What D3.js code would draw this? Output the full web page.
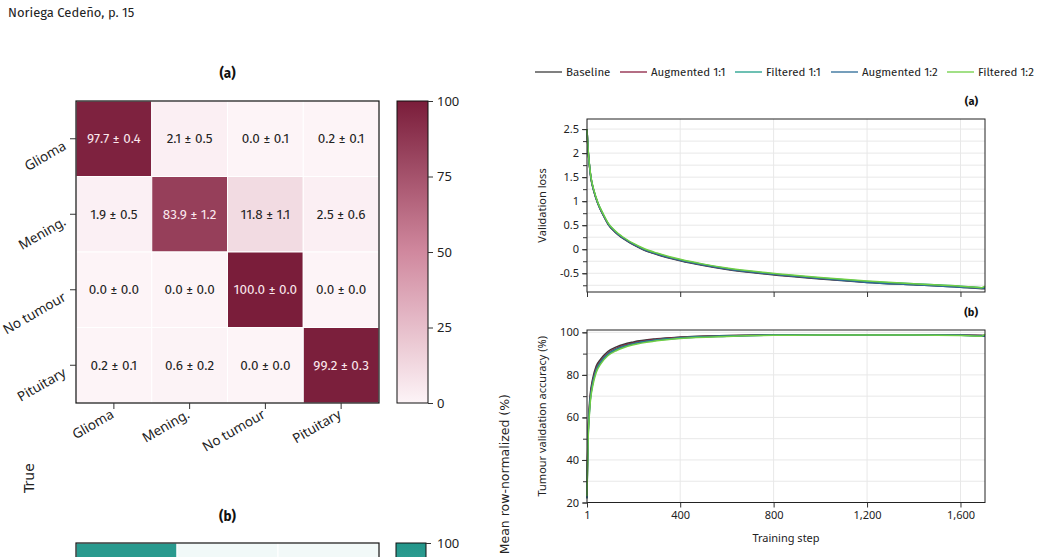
<!DOCTYPE html>
<html><head><meta charset="utf-8">
<script src="https://cdn.jsdelivr.net/npm/d3@7"></script>
<style>
body{margin:0;background:#fff;overflow:hidden}
svg{display:block}
.fira{font-family:"Fira Sans","Lato","Noto Sans",sans-serif}
.noto{font-family:"Noto Sans","Open Sans",sans-serif}
.dv{font-family:"DejaVu Sans",sans-serif}
</style></head>
<body>
<svg id="c" width="1041" height="557"></svg>
<script>
// ---------- DATA ----------
const categories = ["Glioma", "Mening.", "No tumour", "Pituitary"];
const cmMean = [
  [97.7, 2.1, 0.0, 0.2],
  [1.9, 83.9, 11.8, 2.5],
  [0.0, 0.0, 100.0, 0.0],
  [0.2, 0.6, 0.0, 99.2]
];
const cmStd = [
  [0.4, 0.5, 0.1, 0.1],
  [0.5, 1.2, 1.1, 0.6],
  [0.0, 0.0, 0.0, 0.0],
  [0.1, 0.2, 0.0, 0.3]
];
const colorbarTicks = [0, 25, 50, 75, 100];
const bColumns = ["c1", "c2", "c3"];
const bFirstRow = [96.5, 2.0, 1.5];

const seriesNames = ["Baseline", "Augmented 1:1", "Filtered 1:1", "Augmented 1:2", "Filtered 1:2"];
const seriesColors = ["#3b3b3b", "#8c1f42", "#1e9e8a", "#2b6a96", "#6fcf45"];

const lossSteps = [1,4,7,12,18,30,47,70,91,120,150,200,242,300,400,500,600,775,1000,1200,1400,1600,1690,1705];
const lossBaseline = [2.50,2.19,1.97,1.71,1.47,1.21,0.95,0.71,0.52,0.36,0.24,0.09,-0.01,-0.11,-0.24,-0.34,-0.42,-0.52,-0.62,-0.69,-0.74,-0.79,-0.82,-0.82];
const lossAug11   = [2.50,2.20,1.98,1.72,1.48,1.22,0.96,0.72,0.53,0.37,0.25,0.10,0.00,-0.10,-0.23,-0.33,-0.41,-0.51,-0.61,-0.68,-0.73,-0.78,-0.81,-0.81];
const lossFil11   = [2.50,2.21,1.99,1.73,1.49,1.23,0.97,0.73,0.54,0.38,0.26,0.11,0.01,-0.09,-0.22,-0.32,-0.40,-0.50,-0.60,-0.67,-0.72,-0.77,-0.80,-0.80];
const lossAug12   = [2.50,2.20,1.98,1.72,1.48,1.22,0.96,0.72,0.53,0.37,0.25,0.10,0.00,-0.10,-0.23,-0.33,-0.41,-0.51,-0.61,-0.69,-0.74,-0.79,-0.81,-0.81];
const lossFil12   = [2.50,2.22,2.00,1.74,1.50,1.24,0.98,0.74,0.55,0.39,0.27,0.12,0.02,-0.08,-0.21,-0.31,-0.39,-0.49,-0.59,-0.66,-0.72,-0.77,-0.80,-0.77];

const accSteps = [1,3,6,10,15,25,40,60,90,130,200,300,400,600,800,1000,1200,1400,1600,1690,1705];
const accBaseline = [23,40,55,64,71,78,84,87.5,91,93.3,95.5,97.0,97.8,98.5,98.8,98.9,98.9,98.9,98.8,98.6,98.5];
const accAug11    = [22,38,53,62,69.5,76.8,83,86.7,90.3,92.7,95.0,96.7,97.6,98.4,98.8,98.9,98.9,98.9,98.7,98.4,98.3];
const accFil11    = [22,37,52,61,68.5,76,82.3,86.2,89.8,92.3,94.7,96.5,97.4,98.3,98.7,98.8,98.8,98.8,98.6,98.3,98.2];
const accAug12    = [22,36,51,60,68,75.5,81.8,85.8,89.5,92.0,94.5,96.3,97.3,98.2,98.7,98.8,98.8,98.8,98.6,98.3,98.2];
const accFil12    = [23,35,50,59,67,74.5,81,85.2,89,91.6,94.2,96.0,97.1,98.1,98.6,98.7,98.7,98.7,98.5,98.2,99.2];

const xTickValues = [1, 400, 800, 1200, 1600];
const lossTicks = [-0.5, 0, 0.5, 1, 1.5, 2, 2.5];
const accTicks = [20, 40, 60, 80, 100];

// ---------- DRAW ----------
const svg = d3.select("#c");

svg.append("text").attr("class","fira").attr("x",8).attr("y",17)
  .attr("font-size",13).attr("fill","#222").text("Noriega Cedeño, p. 15");

// Heatmap (a)
const hm = {x0:76, x1:379, y0:101, y1:403};
const hx = d3.scaleBand().domain(categories).range([hm.x0, hm.x1]);
const hy = d3.scaleBand().domain(categories).range([hm.y0, hm.y1]);
const cmColor = d3.scaleLinear().domain([0,50,100]).range(["#fdf4f7","#d0889e","#7a1d3a"]).interpolate(d3.interpolateRgb);

svg.append("text").attr("class","fira").attr("x",(hm.x0+hm.x1)/2).attr("y",78)
  .attr("text-anchor","middle").attr("font-size",13.5).attr("font-weight","bold").attr("fill","#111").text("(a)");

const cells = [];
categories.forEach((r,i)=>categories.forEach((c,j)=>cells.push({r,c,v:cmMean[i][j],s:cmStd[i][j]})));
svg.append("g").selectAll("rect").data(cells).join("rect")
  .attr("x",d=>hx(d.c)).attr("y",d=>hy(d.r)).attr("width",hx.bandwidth()).attr("height",hy.bandwidth())
  .attr("fill",d=>cmColor(d.v)).attr("stroke","#fff").attr("stroke-width",1);
svg.append("g").selectAll("text").data(cells).join("text").attr("class","fira")
  .attr("x",d=>hx(d.c)+hx.bandwidth()/2).attr("y",d=>hy(d.r)+hy.bandwidth()/2)
  .attr("dy","0.35em").attr("text-anchor","middle").attr("font-size",13.5)
  .attr("fill",d=>d.v>60?"#fbe9ee":"#222")
  .text(d=>d.v.toFixed(1)+" ± "+d.s.toFixed(1));
svg.append("rect").attr("x",hm.x0).attr("y",hm.y0).attr("width",hm.x1-hm.x0).attr("height",hm.y1-hm.y0)
  .attr("fill","none").attr("stroke","#111").attr("stroke-width",1.2);

// axis ticks & labels
categories.forEach(c=>{
  const cy = hy(c)+hy.bandwidth()/2;
  svg.append("line").attr("x1",hm.x0-6).attr("x2",hm.x0).attr("y1",cy).attr("y2",cy).attr("stroke","#333");
  svg.append("text").attr("class","noto").attr("font-size",13.5).attr("fill","#222").attr("text-anchor","end")
    .attr("transform",`translate(${hm.x0-9},${cy+10}) rotate(-30)`).text(c);
  const cx = hx(c)+hx.bandwidth()/2;
  svg.append("line").attr("x1",cx).attr("x2",cx).attr("y1",hm.y1).attr("y2",hm.y1+6).attr("stroke","#333");
  svg.append("text").attr("class","noto").attr("font-size",13.5).attr("fill","#222").attr("text-anchor","end")
    .attr("transform",`translate(${cx+1},${hm.y1+14}) rotate(-30)`).text(c);
});

// colorbar (a)
const defs = svg.append("defs");
const g1 = defs.append("linearGradient").attr("id","cbA").attr("x1",0).attr("y1",1).attr("x2",0).attr("y2",0);
d3.range(0,101,10).forEach(v=>g1.append("stop").attr("offset",v+"%").attr("stop-color",cmColor(v)));
const cb = {x:397, w:31};
const cbY = d3.scaleLinear().domain([0,100]).range([hm.y1, hm.y0]);
svg.append("rect").attr("x",cb.x).attr("y",hm.y0).attr("width",cb.w).attr("height",hm.y1-hm.y0)
  .attr("fill","url(#cbA)").attr("stroke","#111").attr("stroke-width",1);
svg.append("g").attr("transform",`translate(${cb.x+cb.w},0)`)
  .call(d3.axisRight(cbY).tickValues(colorbarTicks).tickSize(5).tickPadding(4))
  .call(g=>{g.select(".domain").remove(); g.selectAll("text").attr("class","noto").attr("font-size",13).attr("fill","#222"); g.selectAll("line").attr("stroke","#333");});

svg.append("text").attr("class","dv").attr("font-size",14).attr("fill","#222").attr("text-anchor","middle")
  .attr("transform","translate(34,478) rotate(-90)").text("True");
svg.append("text").attr("class","dv").attr("font-size",12.5).attr("fill","#222").attr("text-anchor","end")
  .attr("transform","translate(509,394) rotate(-90)").text("Mean row-normalized (%)");

// heatmap (b)
svg.append("text").attr("class","fira").attr("x",(hm.x0+hm.x1)/2).attr("y",521)
  .attr("text-anchor","middle").attr("font-size",13.5).attr("font-weight","bold").attr("fill","#111").text("(b)");
const bColor = d3.scaleLinear().domain([0,100]).range(["#f5fbfa","#22968a"]);
const bx = d3.scaleBand().domain(bColumns).range([hm.x0, hm.x1]);
const bTop = 543;
svg.append("g").selectAll("rect").data(bFirstRow).join("rect")
  .attr("x",(d,i)=>bx(bColumns[i])).attr("y",bTop).attr("width",bx.bandwidth()).attr("height",101)
  .attr("fill",d=>bColor(d)).attr("stroke","#fff");
svg.append("rect").attr("x",hm.x0).attr("y",bTop).attr("width",hm.x1-hm.x0).attr("height",101)
  .attr("fill","none").attr("stroke","#111").attr("stroke-width",1.2);
const g2 = defs.append("linearGradient").attr("id","cbB").attr("x1",0).attr("y1",1).attr("x2",0).attr("y2",0);
g2.append("stop").attr("offset","0%").attr("stop-color",bColor(0));
g2.append("stop").attr("offset","100%").attr("stop-color",bColor(100));
svg.append("rect").attr("x",396).attr("y",bTop).attr("width",30).attr("height",300)
  .attr("fill","url(#cbB)").attr("stroke","#111");
const cbBY = d3.scaleLinear().domain([0,100]).range([bTop+300,bTop]);
svg.append("g").attr("transform","translate(426,0)")
  .call(d3.axisRight(cbBY).tickValues([100]).tickSize(5).tickPadding(6))
  .call(g=>{g.select(".domain").remove(); g.selectAll("text").attr("class","noto").attr("font-size",13).attr("fill","#222"); g.selectAll("line").attr("stroke","#333");});

// ---------- line charts ----------
const px = {x0:587, x1:985};
const x = d3.scaleLinear().domain([1,1705]).range([px.x0, px.x1]);

// legend
const legendX = [535, 620, 735, 831, 947];
seriesNames.forEach((n,i)=>{
  svg.append("line").attr("x1",legendX[i]).attr("x2",legendX[i]+27).attr("y1",72).attr("y2",72)
    .attr("stroke",seriesColors[i]).attr("stroke-width",1.3);
  svg.append("text").attr("class","fira").attr("x",legendX[i]+31).attr("y",72).attr("dy","0.35em")
    .attr("font-size",11.5).attr("fill","#222").text(n);
});

function panel(cfg){
  const y = d3.scaleLinear().domain(cfg.domain).range([cfg.y1, cfg.y0]);
  const g = svg.append("g");
  g.selectAll(".gh").data(cfg.grid).join("line").attr("x1",px.x0).attr("x2",px.x1)
    .attr("y1",d=>y(d)).attr("y2",d=>y(d)).attr("stroke","#e8e8e8").attr("stroke-width",1);
  g.selectAll(".gv").data(xTickValues).join("line").attr("x1",d=>x(d)).attr("x2",d=>x(d))
    .attr("y1",cfg.y0).attr("y2",cfg.y1).attr("stroke","#e8e8e8").attr("stroke-width",1);
  const line = d3.line().x(d=>x(d[0])).y(d=>y(d[1])).curve(d3.curveMonotoneX);
  cfg.series.forEach((s,i)=>{
    g.append("path").datum(cfg.steps.map((st,k)=>[st,s[k]])).attr("d",line)
      .attr("fill","none").attr("stroke",seriesColors[i]).attr("stroke-width",1.5);
  });
  g.append("rect").attr("x",px.x0).attr("y",cfg.y0).attr("width",px.x1-px.x0).attr("height",cfg.y1-cfg.y0)
    .attr("fill","none").attr("stroke","#222").attr("stroke-width",1);
  g.append("g").attr("transform",`translate(${px.x0},0)`)
    .call(d3.axisLeft(y).tickValues(cfg.minor).tickSize(4).tickFormat(""))
    .call(a=>{a.select(".domain").remove(); a.selectAll("line").attr("stroke","#333");});
  g.append("g").attr("transform",`translate(${px.x0},0)`)
    .call(d3.axisLeft(y).tickValues(cfg.ticks).tickSize(5).tickPadding(3).tickFormat(cfg.fmt))
    .call(a=>{a.select(".domain").remove(); a.selectAll("line").attr("stroke","#333");
      a.selectAll("text").attr("class","noto").attr("font-size",11).attr("fill","#222");});
  g.append("g").attr("transform",`translate(0,${cfg.y1})`)
    .call(d3.axisBottom(x).tickValues(xTickValues).tickSize(5).tickPadding(4)
      .tickFormat(cfg.xlabels ? d3.format(",") : ""))
    .call(a=>{a.select(".domain").remove(); a.selectAll("line").attr("stroke","#333");
      a.selectAll("text").attr("class","noto").attr("font-size",11).attr("fill","#222");});
  svg.append("text").attr("class","noto").attr("font-size",11).attr("fill","#222").attr("text-anchor","middle")
    .attr("transform",`translate(546,${(cfg.y0+cfg.y1)/2}) rotate(-90)`).text(cfg.label);
  svg.append("text").attr("class","fira").attr("x",978).attr("y",cfg.y0-14).attr("text-anchor","end")
    .attr("font-size",11).attr("font-weight","bold").attr("fill","#111").text(cfg.tag);
}

panel({y0:119, y1:292, domain:[-0.89,2.71], ticks:lossTicks, minor:d3.range(-0.75,2.6,0.25),
  grid:d3.range(-0.75,2.6,0.25), fmt:d=>String(d),
  steps:lossSteps, series:[lossBaseline,lossAug11,lossFil11,lossAug12,lossFil12],
  label:"Validation loss", tag:"(a)", xlabels:false});
panel({y0:330, y1:502.5, domain:[20,101.1], ticks:accTicks, minor:d3.range(20,101,10),
  grid:d3.range(20,101,10), fmt:d3.format("d"),
  steps:accSteps, series:[accBaseline,accAug11,accFil11,accAug12,accFil12],
  label:"Tumour validation accuracy (%)", tag:"(b)", xlabels:true});

svg.append("text").attr("class","noto").attr("x",786).attr("y",542).attr("text-anchor","middle")
  .attr("font-size",11).attr("fill","#222").text("Training step");
</script>
</body></html>
